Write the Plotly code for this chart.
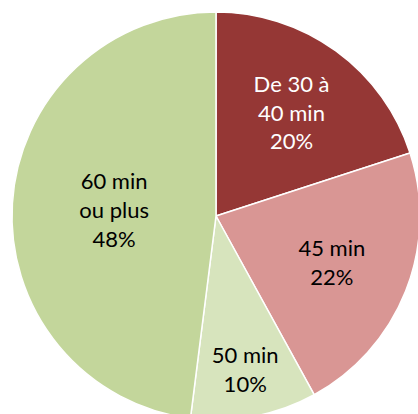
import plotly.graph_objects as go

# Commute duration shares
labels = ["De 30 à<br>40 min", "45 min", "50 min", "60 min<br>ou plus"]
values = [20, 22, 10, 48]
colors = ["#953735", "#D99694", "#D7E4BD", "#C3D69B"]
text_colors = ["#FFFFFF", "#000000", "#000000", "#000000"]

W, H = 420, 420
offset = 12  # left/top gap before the pie

fig = go.Figure(
    go.Pie(
        labels=labels,
        values=values,
        sort=False,
        direction="clockwise",
        rotation=0,
        marker=dict(colors=colors, line=dict(color="#FFFFFF", width=1.5)),
        texttemplate="%{label}<br>%{percent:.0%}",
        textposition="inside",
        insidetextorientation="horizontal",
        textfont=dict(family="Lato, Carlito, sans-serif", size=22, color=text_colors),
        domain=dict(x=[offset / W, 1], y=[0, 1 - offset / H]),
        hoverinfo="label+percent",
    )
)

fig.update_layout(
    width=W,
    height=H,
    margin=dict(l=0, r=0, t=0, b=0),
    showlegend=False,
    paper_bgcolor="#FFFFFF",
    plot_bgcolor="#FFFFFF",
)

fig.write_html(
    "out.html",
    post_script="document.documentElement.style.overflow='hidden';document.body.style.overflow='hidden';",
)
